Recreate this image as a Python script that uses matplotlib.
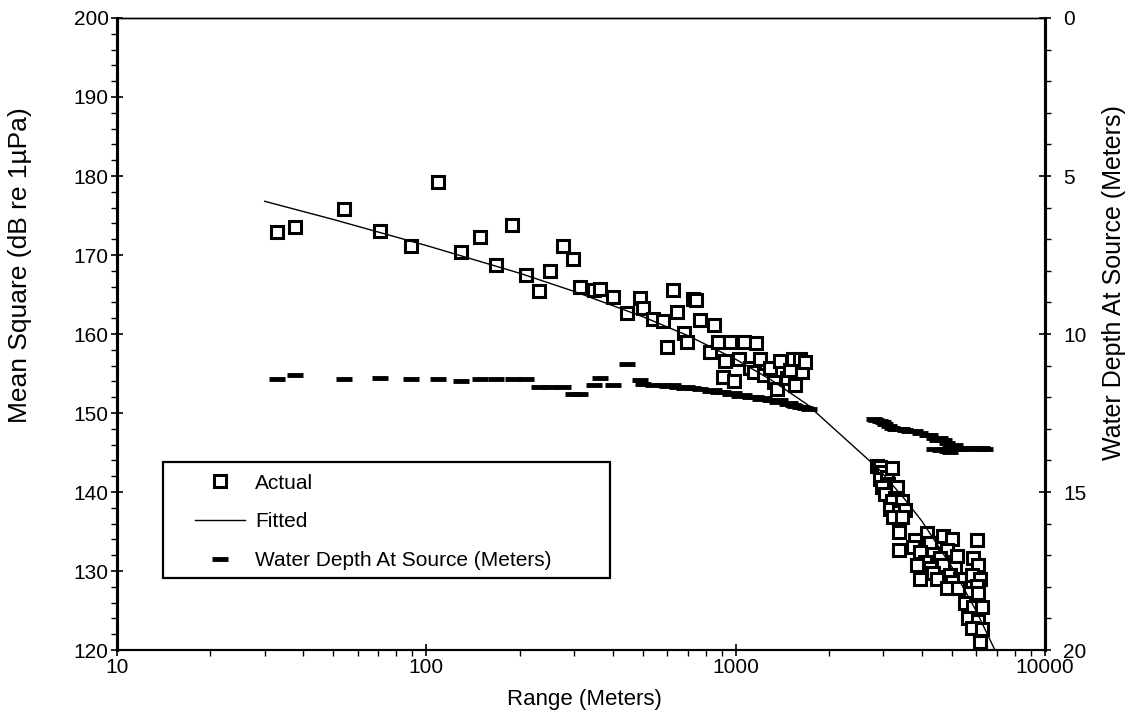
import matplotlib
matplotlib.use("Agg")
import matplotlib.pyplot as plt
from matplotlib.ticker import FixedLocator, NullFormatter, LogLocator
from matplotlib.lines import Line2D
from matplotlib.patches import Rectangle

plt.rcParams["font.family"] = ["Liberation Sans", "DejaVu Sans"]

# measured level vs range
actual_range = [
    33, 37.5, 54, 71, 89.5, 109, 129, 149, 168, 189, 210, 232, 251, 276, 297,
    314, 347, 364, 402, 445, 491, 503, 542, 581, 598, 626, 645, 678, 695, 730,
    745, 767, 827, 848, 879, 912, 925, 960, 985, 1025, 1061, 1114, 1143, 1165,
    1200, 1230, 1292, 1325, 1358, 1390, 1462, 1497, 1537, 1556, 1615, 1635, 1675,
    2860, 2930, 2990, 2930, 3080, 3197, 3118, 3319, 2960, 3042, 3278, 3197,
    3444, 3157, 3359, 3529, 3236, 3444, 3359, 3359,
    4148, 3802, 4252, 4694, 4998, 3755, 3946, 4358, 4816, 5187, 4098, 4580,
    3850, 4252, 4694, 5122, 4358, 3946, 4467, 4935, 5315, 5000, 4816, 5248,
    6018, 5870, 6090, 5800, 6167, 6018, 5728, 6090, 5512, 5870, 6245, 5655,
    6090, 5800, 6245, 6167,
]
actual_db = [
    172.9, 173.5, 175.8, 173.0, 171.2, 179.3, 170.4, 172.3, 168.7, 173.8, 167.5,
    165.5, 168.0, 171.2, 169.5, 165.9, 165.6, 165.7, 164.7, 162.6, 164.6, 163.3,
    161.9, 161.6, 158.3, 165.6, 162.8, 160.1, 159.0, 164.4, 164.3, 161.8, 157.7,
    161.2, 159.0, 154.6, 156.6, 159.0, 154.1, 156.8, 159.0, 155.7, 155.2, 158.8,
    156.8, 154.8, 155.7, 153.9, 153.1, 156.6, 154.4, 155.5, 156.8, 153.5, 156.8,
    155.2, 156.4,
    143.3, 143.2, 142.5, 141.7, 141.9, 143.0, 141.0, 140.6, 140.6, 139.7, 139.2,
    138.8, 138.8, 137.9, 137.5, 137.7, 136.8, 136.8, 135.0, 132.6,
    134.8, 133.9, 133.5, 134.4, 134.1, 133.0, 132.4, 132.1, 132.6, 131.9, 131.2,
    131.7, 130.8, 130.4, 130.8, 130.4, 129.7, 129.0, 129.0, 129.5, 129.0, 128.6,
    127.9, 127.9,
    133.9, 131.7, 130.8, 129.5, 129.0, 128.1, 127.2, 127.2, 125.9, 125.5, 125.5,
    124.1, 123.7, 122.8, 122.6, 121.0,
]

# fitted curve
fit_range = [30, 50, 100, 200, 300, 500, 700, 1000, 1300, 1700, 2900, 3500,
             4000, 5000, 6000, 7000]
fit_db = [176.8, 174.5, 171.2, 167.7, 165.4, 162.2, 159.8, 156.8, 154.2, 151.1,
          142.9, 139.2, 136.3, 130.5, 124.9, 119.4]

# water depth at source (right axis, metres)
depth_range = [
    33, 37.5, 54, 71, 89.5, 109, 129, 149, 168, 190, 210, 232, 251, 276, 297,
    314, 347, 364, 402, 445, 491, 503, 542, 581, 598, 626, 645, 678, 695, 730,
    767, 827, 848, 879, 912, 960, 985, 1025, 1061, 1114, 1165, 1200, 1230, 1292,
    1325, 1358, 1390, 1462, 1497, 1537, 1556, 1615, 1635, 1675, 1720,
    2790, 2850, 2930, 2990, 3040, 3120, 3200, 3280, 3360, 3440, 3530, 3640,
    3800, 3950, 4150, 4250, 4360, 4470, 4580, 4700, 4820, 4940, 5000, 5120,
    5250, 5310, 5500, 5730, 5870, 6020, 6170, 6250, 6400, 4360, 4580, 4700,
    4820, 4940,
]
depth_m = [
    11.41, 11.30, 11.41, 11.38, 11.41, 11.41, 11.50, 11.41, 11.41, 11.41, 11.41,
    11.68, 11.68, 11.68, 11.90, 11.90, 11.62, 11.39, 11.61, 10.94, 11.47, 11.58,
    11.60, 11.62, 11.65, 11.62, 11.68, 11.70, 11.68, 11.72, 11.75, 11.80, 11.78,
    11.85, 11.82, 11.90, 11.88, 11.95, 11.92, 12.00, 11.98, 12.05, 12.02, 12.08,
    12.10, 12.15, 12.10, 12.20, 12.18, 12.25, 12.28, 12.30, 12.32, 12.35, 12.38,
    12.69, 12.72, 12.75, 12.80, 12.85, 12.90, 12.97, 13.00, 13.00, 13.02, 13.05,
    13.08, 13.08, 13.13, 13.20, 13.20, 13.30, 13.35, 13.30, 13.36, 13.45, 13.60,
    13.55, 13.50, 13.60, 13.65, 13.63, 13.60, 13.62, 13.60, 13.63, 13.62, 13.65,
    13.63, 13.68, 13.63, 13.70, 13.72,
]

fig = plt.figure(figsize=(11.32, 7.14), dpi=100)
ax = fig.add_axes([0.1034, 0.0896, 0.8198, 0.8852])
ax2 = ax.twinx()

ax.plot(actual_range, actual_db, linestyle="none", marker="s", ms=8.5,
        mfc="white", mec="black", mew=2.2, zorder=3)
ax.plot(fit_range, fit_db, color="black", lw=1, zorder=4)
ax2.plot(depth_range, depth_m, linestyle="none", marker="_", ms=11, mew=3.5,
         color="black")

ax.set_xscale("log")
ax.set_xlim(10, 10000)
ax.set_ylim(120, 200)
ax2.set_ylim(20, 0)

ax.set_xticks([10, 100, 1000, 10000])
ax.set_xticklabels(["10", "100", "1000", "10000"])
ax.xaxis.set_minor_locator(LogLocator(base=10, subs=range(2, 10)))
ax.xaxis.set_minor_formatter(NullFormatter())
ax.set_yticks(range(120, 201, 10))
ax.yaxis.set_minor_locator(FixedLocator(range(120, 201, 2)))
ax2.set_yticks(range(0, 21, 5))
ax2.yaxis.set_minor_locator(FixedLocator(range(0, 21, 1)))

ax.tick_params(which="major", direction="inout", length=8, width=1.2,
               labelsize=15, pad=2)
ax.tick_params(axis="x", which="major", pad=1.5)
ax.tick_params(which="minor", direction="out", length=4, width=1)
ax2.tick_params(which="major", direction="inout", length=8, width=1.2,
                labelsize=15, pad=9)
ax2.tick_params(which="minor", direction="out", length=4, width=1)

for a in (ax, ax2):
    a.spines["left"].set_linewidth(2.2)
    a.spines["right"].set_linewidth(2.2)
    a.spines["bottom"].set_linewidth(1.5)
    a.spines["top"].set_linewidth(1.0)

ax.set_xlabel("Range (Meters)", fontsize=16)
ax.set_ylabel("Mean Square (dB re 1µPa)", fontsize=19)
ax2.set_ylabel("Water Depth At Source (Meters)", fontsize=18, rotation=90)
ax.xaxis.set_label_coords(0.504, -0.062)
ax.yaxis.set_label_coords(-0.092, 0.609)
ax2.yaxis.set_label_coords(1.061, 0.582)

# legend box drawn separately so its size matches the original
ax.add_patch(Rectangle((0.0496, 0.114), 0.4814, 0.183, transform=ax.transAxes,
                       facecolor="white", edgecolor="black", lw=1.6, zorder=9))
handles = [
    Line2D([], [], linestyle="none", marker="s", ms=8, mfc="white",
           mec="black", mew=2.2),
    Line2D([], [], color="black", lw=1),
    Line2D([], [], linestyle="none", marker="_", ms=11, mew=3.5, color="black"),
]
labels = ["Actual", "Fitted", "Water Depth At Source (Meters)"]
leg = ax.legend(handles, labels, loc="upper left",
                bbox_to_anchor=(0.084, 0.279), frameon=False, fontsize=15,
                borderaxespad=0, borderpad=0, handlelength=2.4,
                handletextpad=0.5, labelspacing=0.94)
leg.set_zorder(10)

fig.savefig("out.png", dpi=100)
